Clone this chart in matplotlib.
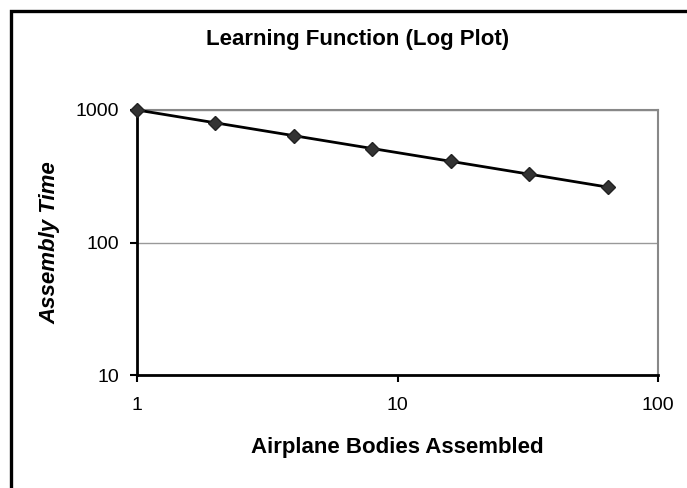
import matplotlib.pyplot as plt
from matplotlib.patches import Rectangle

bodies = [1, 2, 4, 8, 16, 32, 64]
assembly_time = [1000, 800, 640, 512, 410, 328, 262]

x_ticks = [1, 10, 100]
y_ticks = [10, 100, 1000]

plt.rcParams["font.family"] = ["Liberation Sans", "DejaVu Sans"]

fig = plt.figure(figsize=(6.87, 4.88), dpi=100)
W, H = 687, 488
ax = fig.add_axes([137 / W, (H - 375) / H, 521 / W, 265 / H])

# outer chart border (only left/top visible in the crop)
fig.patches.append(Rectangle((11 / W, -0.05), 1.2, 1.05 - 11 / H,
                             transform=fig.transFigure, fill=False,
                             edgecolor="black", linewidth=2.4))

ax.plot(bodies, assembly_time, color="black", linewidth=2,
        marker="D", markersize=7.5, markerfacecolor="#333333",
        markeredgecolor="#222222", clip_on=False, zorder=3)

ax.set_xscale("log")
ax.set_yscale("log")
ax.set_xlim(1, 100)
ax.set_ylim(10, 1000)
ax.set_xticks(x_ticks)
ax.set_xticklabels([str(t) for t in x_ticks])
ax.set_yticks(y_ticks)
ax.set_yticklabels([str(t) for t in y_ticks])
ax.minorticks_off()

ax.yaxis.grid(True, color="#999999", linewidth=1)
ax.set_axisbelow(True)

for s in ["top", "right"]:
    ax.spines[s].set_color("#888888")
    ax.spines[s].set_linewidth(1.5)
for s in ["left", "bottom"]:
    ax.spines[s].set_color("black")
    ax.spines[s].set_linewidth(2)

ax.tick_params(axis="both", direction="out", length=5, width=1.5,
               labelsize=14)
ax.tick_params(axis="y", pad=8)
ax.tick_params(axis="x", pad=11)

fig.text(358 / W, 1 - 40 / H, "Learning Function (Log Plot)",
         ha="center", va="center", fontsize=16, fontweight="bold")
fig.text(397 / W, 1 - 447 / H, "Airplane Bodies Assembled",
         ha="center", va="center", fontsize=16, fontweight="bold")
fig.text(50 / W, 1 - 243 / H, "Assembly Time", rotation=90,
         ha="center", va="center", fontsize=16, fontweight="bold",
         fontstyle="italic")

fig.savefig("out.png", dpi=100)
